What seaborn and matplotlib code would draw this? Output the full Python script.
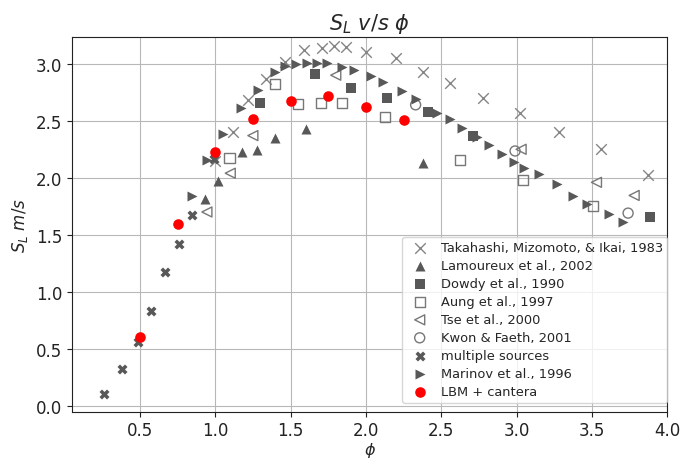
import numpy as np
import pandas as pd
import matplotlib
matplotlib.use("Agg")
import matplotlib.pyplot as plt
import seaborn as sns

# ---- data ----
tak_phi = [1.00, 1.12, 1.22, 1.34, 1.46, 1.59, 1.71, 1.79, 1.87, 2.00, 2.20, 2.38, 2.56, 2.78, 3.02, 3.28, 3.56, 3.87]
tak_sl = [2.15, 2.40, 2.68, 2.87, 3.02, 3.12, 3.14, 3.16, 3.15, 3.10, 3.05, 2.93, 2.83, 2.70, 2.57, 2.40, 2.25, 2.02]

lam_phi = [0.93, 1.02, 1.18, 1.28, 1.40, 1.60, 2.38]
lam_sl = [1.81, 1.97, 2.23, 2.24, 2.35, 2.43, 2.13]

dow_phi = [1.30, 1.665, 1.90, 2.14, 2.41, 2.71, 3.885]
dow_sl = [2.66, 2.91, 2.79, 2.70, 2.58, 2.37, 1.655]

aung_phi = [1.095, 1.40, 1.55, 1.70, 1.84, 2.125, 2.625, 3.045, 3.51]
aung_sl = [2.17, 2.82, 2.645, 2.655, 2.66, 2.53, 2.155, 1.98, 1.75]

tse_phi = [0.945, 1.10, 1.25, 1.80, 3.03, 3.53, 3.78]
tse_sl = [1.70, 2.04, 2.37, 2.90, 2.25, 1.96, 1.845]

kwon_phi = [2.33, 2.99, 3.74]
kwon_sl = [2.64, 2.235, 1.69]

multi_phi = [0.265, 0.383, 0.489, 0.571, 0.67, 0.761, 0.845, 0.995]
multi_sl = [0.10, 0.32, 0.555, 0.83, 1.17, 1.415, 1.67, 2.165]

mar_phi = [0.847, 0.945, 1.05, 1.172, 1.287, 1.398, 1.464, 1.537, 1.608, 1.674, 1.74, 1.84, 1.924,
           2.034, 2.116, 2.242, 2.331, 2.474, 2.558, 2.636, 2.735, 2.819, 2.90, 2.985, 3.049, 3.151,
           3.266, 3.372, 3.465, 3.613, 3.708]
mar_sl = [1.84, 2.153, 2.387, 2.616, 2.77, 2.93, 2.98, 2.995, 3.01, 3.01, 3.003, 2.972, 2.943,
          2.89, 2.842, 2.764, 2.69, 2.567, 2.515, 2.437, 2.356, 2.286, 2.205, 2.142, 2.089, 2.031,
          1.945, 1.844, 1.766, 1.684, 1.612]

lbm_phi = [0.5, 0.75, 1.0, 1.25, 1.5, 1.75, 2.0, 2.25]
lbm_sl = [0.60, 1.597, 2.228, 2.52, 2.677, 2.72, 2.62, 2.506]

x_ticks = [0.5, 1.0, 1.5, 2.0, 2.5, 3.0, 3.5, 4.0]
y_ticks = [0.0, 0.5, 1.0, 1.5, 2.0, 2.5, 3.0]

# ---- style ----
sns.set_style("ticks", {
    "axes.grid": True,
    "grid.color": "#b8b8b8",
    "grid.linewidth": 0.8,
    "axes.edgecolor": "#222222",
    "axes.linewidth": 0.8,
    "xtick.color": "#222222",
    "ytick.color": "#222222",
})
plt.rcParams["font.family"] = ["DejaVu Sans"]
plt.rcParams["mathtext.fontset"] = "dejavusans"

fig = plt.figure(figsize=(6.8, 4.64), dpi=100)
ax = fig.add_axes([0.1059, 0.1106, 0.8754, 0.8075])

dark = "#585858"
light_x = "#858585"
hollow = "#777777"
S = 52

sns.scatterplot(x=tak_phi, y=tak_sl, marker="x", s=S + 6, color=light_x, edgecolor=None,
                linewidth=1.0, label="Takahashi, Mizomoto, & Ikai, 1983", ax=ax)
sns.scatterplot(x=lam_phi, y=lam_sl, marker="^", s=S, color=dark, edgecolor=dark,
                linewidth=0, label="Lamoureux et al., 2002", ax=ax)
sns.scatterplot(x=dow_phi, y=dow_sl, marker="s", s=S, color=dark, edgecolor=dark,
                linewidth=0, label="Dowdy et al., 1990", ax=ax)
sns.scatterplot(x=aung_phi, y=aung_sl, marker="s", s=S, color="none", edgecolor=hollow,
                linewidth=1.0, label="Aung et al., 1997", ax=ax)
sns.scatterplot(x=tse_phi, y=tse_sl, marker="<", s=S, color="none", edgecolor=hollow,
                linewidth=1.0, label="Tse et al., 2000", ax=ax)
sns.scatterplot(x=kwon_phi, y=kwon_sl, marker="o", s=S, color="none", edgecolor=hollow,
                linewidth=1.0, label="Kwon & Faeth, 2001", ax=ax)
sns.scatterplot(x=multi_phi, y=multi_sl, marker="X", s=S, color=dark, edgecolor=dark,
                linewidth=0, label="multiple sources", ax=ax)
sns.scatterplot(x=mar_phi, y=mar_sl, marker=">", s=S, color=dark, edgecolor=dark,
                linewidth=0, label="Marinov et al., 1996", ax=ax)
sns.scatterplot(x=lbm_phi, y=lbm_sl, marker="o", s=S + 6, color="red", edgecolor="red",
                linewidth=0, label="LBM + cantera", ax=ax)

ax.set_xlim(0.05, 4.0)
ax.set_ylim(-0.052, 3.235)
ax.set_xticks(x_ticks)
ax.set_yticks(y_ticks)
ax.set_xticklabels([f"{v:.1f}" for v in x_ticks])
ax.set_yticklabels([f"{v:.1f}" for v in y_ticks])
ax.tick_params(labelsize=12, length=3.5, width=0.8)
for sp in ax.spines.values():
    sp.set_visible(True)

ax.set_title(r"$S_L\ v/s\ \phi$", fontsize=15, pad=6)
ax.set_xlabel(r"$\phi$", fontsize=11.5, labelpad=0.5)
ax.set_ylabel(r"$S_L\ m/s$", fontsize=12, labelpad=4)

ax.legend(loc="lower right", bbox_to_anchor=(1.0, 0.024), borderaxespad=0,
          fontsize=9.4, frameon=True, framealpha=0.8, edgecolor="#cccccc",
          fancybox=True, handletextpad=0.6, labelspacing=0.38, borderpad=0.35)

fig.savefig("out.png", dpi=100)
